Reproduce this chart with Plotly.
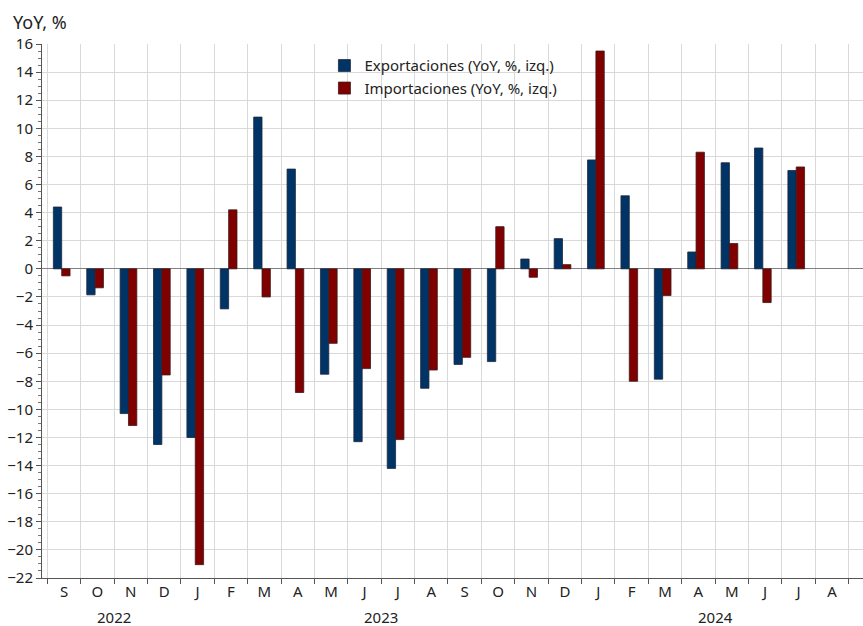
import plotly.graph_objects as go

months = ["S", "O", "N", "D", "J", "F", "M", "A", "M", "J", "J", "A",
          "S", "O", "N", "D", "J", "F", "M", "A", "M", "J", "J", "A"]
years = ["2022", "2023", "2024"]
year_centers = [1.5, 9.5, 19.5]

exports = [4.4, -1.85, -10.3, -12.5, -12.0, -2.85, 10.8, 7.1, -7.5, -12.3, -14.2, -8.5,
           -6.8, -6.6, 0.7, 2.15, 7.75, 5.2, -7.85, 1.2, 7.55, 8.6, 7.0, None]
imports = [-0.5, -1.35, -11.15, -7.55, -21.05, 4.2, -2.0, -8.8, -5.3, -7.1, -12.15, -7.2,
           -6.3, 3.0, -0.6, 0.3, 15.5, -8.0, -1.9, 8.3, 1.8, -2.4, 7.25, None]

x = list(range(len(months)))
FONT = "Noto Sans, Open Sans, sans-serif"

fig = go.Figure()
fig.add_trace(go.Bar(x=x, y=exports, name="Exportaciones (YoY, %, izq.)",
                     marker=dict(color="#003366", line=dict(color="#1f2a3a", width=0.8)),
                     width=0.25, offset=-0.32))
fig.add_trace(go.Bar(x=x, y=imports, name="Importaciones (YoY, %, izq.)",
                     marker=dict(color="#800000", line=dict(color="#3a1a1a", width=0.8)),
                     width=0.25, offset=-0.07))

for yr, c in zip(years, year_centers):
    fig.add_annotation(x=c, y=0, xref="x", yref="paper", text=yr, showarrow=False,
                       yanchor="top", yshift=-27, font=dict(size=15, color="#222", family=FONT))

fig.add_annotation(x=0, y=1, xref="paper", yref="paper", text="YoY, %", showarrow=False,
                   xanchor="left", yanchor="bottom", xshift=-31, yshift=8,
                   font=dict(size=18, color="#222", family=FONT))

fig.update_layout(
    width=863, height=626,
    margin=dict(l=42, r=0, t=44, b=48),
    paper_bgcolor="white", plot_bgcolor="white",
    font=dict(family=FONT, size=15, color="#222"),
    barmode="overlay",
    showlegend=True,
    legend=dict(x=0.344, y=0.99, xanchor="left", yanchor="top",
                bgcolor="rgba(0,0,0,0)", font=dict(size=15, color="#222"),
                tracegroupgap=0, itemwidth=30),
    xaxis=dict(range=[-0.66, 23.93], tickmode="array", tickvals=x, ticktext=months,
               showgrid=False, ticks="", showline=True, linecolor="#555", linewidth=1,
               zeroline=False, tickfont=dict(size=15), automargin=False,
               minor=dict(tickmode="linear", tick0=0.5, dtick=1, showgrid=True,
                          gridcolor="#d9d9d9", gridwidth=1, ticks="outside",
                          ticklen=5, tickcolor="#555")),
    yaxis=dict(range=[-22, 16], tickmode="linear", tick0=-22, dtick=2,
               showgrid=True, gridcolor="#d9d9d9", gridwidth=1,
               showline=True, linecolor="#555", linewidth=1,
               ticks="outside", ticklen=5, tickcolor="#555",
               zeroline=True, zerolinecolor="#808080", zerolinewidth=1.2,
               tickfont=dict(size=15), automargin=False,
               minor=dict(dtick=0.5, ticks="outside", ticklen=3, tickcolor="#777",
                          showgrid=False)),
)

fig.write_html("out.html", config={"displayModeBar": False},
               post_script="document.body.style.margin='0';document.body.style.overflow='hidden';")
